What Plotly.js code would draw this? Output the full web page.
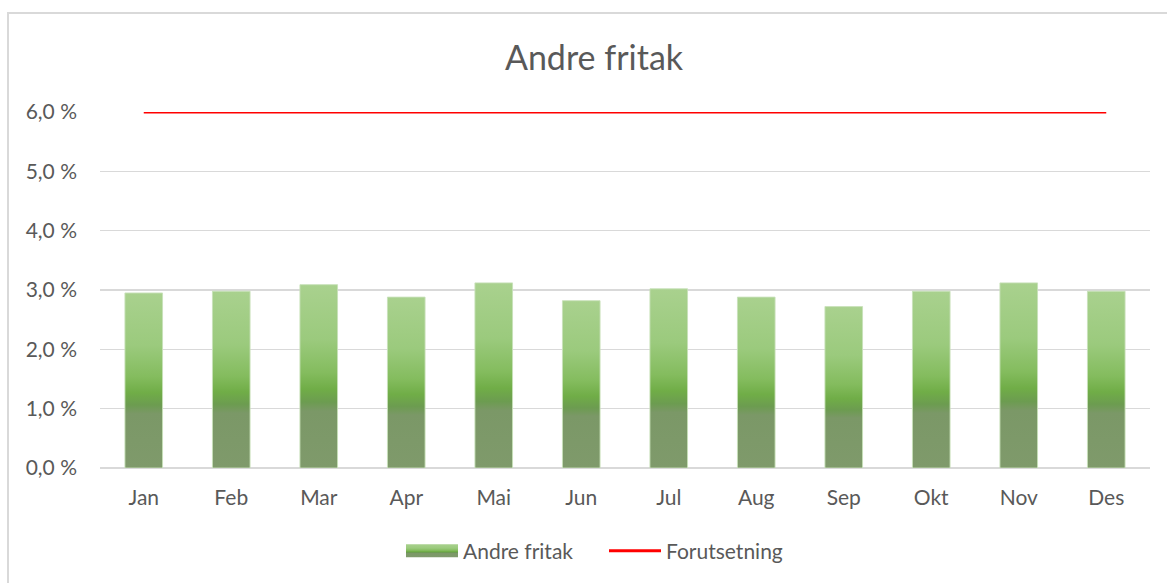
<!DOCTYPE html>
<html>
<head>
<meta charset="utf-8">
<script src="https://cdn.plot.ly/plotly-3.0.1.min.js"></script>
<style>
  html, body { margin:0; padding:0; background:#fff; }
  #chart { width:1167px; height:583px; }
  #frame { position:absolute; left:7px; top:12px; width:1180px; height:600px; border:2px solid #d9d9d9; box-sizing:border-box; pointer-events:none; }
</style>
</head>
<body>
<div id="chart"></div>
<div id="frame"></div>
<script>
const months = ["Jan","Feb","Mar","Apr","Mai","Jun","Jul","Aug","Sep","Okt","Nov","Des"];
const andreFritak = [2.95, 2.98, 3.09, 2.88, 3.12, 2.82, 3.02, 2.88, 2.72, 2.98, 3.12, 2.98];
const forutsetning = [6.0, 6.0, 6.0, 6.0, 6.0, 6.0, 6.0, 6.0, 6.0, 6.0, 6.0, 6.0];
const yTickVals = [0, 1, 2, 3, 4, 5, 6];
const yTickText = ["0,0 %","1,0 %","2,0 %","3,0 %","4,0 %","5,0 %","6,0 %"];

const FONT = "Lato, 'Open Sans', sans-serif";
const TXT = "#595959";

const traces = [
  {
    type: "bar", name: "Andre fritak", x: months, y: andreFritak,
    width: 0.43,
    marker: { color: "#84b465", line: { color: "rgba(200,225,185,0.9)", width: 1 } },
    hoverinfo: "x+y"
  },
  {
    type: "scatter", mode: "lines", name: "Forutsetning", x: months, y: forutsetning,
    line: { color: "#ff0000", width: 3 }
  }
];

const layout = {
  width: 1167, height: 583,
  margin: { l: 100, r: 17, t: 112, b: 115 },
  paper_bgcolor: "#ffffff", plot_bgcolor: "#ffffff",
  font: { family: FONT, color: TXT, size: 21 },
  title: { text: "Andre fritak", font: { family: FONT, size: 34, color: TXT }, x: 594 / 1167, xanchor: "center", y: 0.9, yanchor: "middle", yref: "container" },
  showlegend: true,
  legend: { orientation: "h", xref: "container", yref: "container", x: 401 / 1167, xanchor: "left", y: 1 - 551 / 583, yanchor: "middle",
            font: { size: 21, color: TXT, family: FONT }, itemwidth: 52, entrywidth: 136, entrywidthmode: "pixels", traceorder: "normal" },
  xaxis: {
    type: "category", showgrid: false, zeroline: false, showline: false,
    ticks: "", ticklabelstandoff: 15, tickfont: { size: 21, color: TXT },
    range: [-0.5, 11.5]
  },
  yaxis: {
    range: [0, 6], tickvals: yTickVals, ticktext: yTickText,
    showgrid: true, gridcolor: "#d9d9d9", gridwidth: 1.5,
    zeroline: true, zerolinecolor: "#d9d9d9", zerolinewidth: 1.5,
    showline: false, ticks: "", ticklabelstandoff: 22, tickfont: { size: 21, color: TXT }
  },
  bargap: 0.57
};

function applyGradient(gd) {
  const svgNS = "http://www.w3.org/2000/svg";
  const svg = gd.querySelector("svg.main-svg");
  if (!document.getElementById("andreGrad")) {
    let defs = svg.querySelector("defs");
    if (!defs) { defs = document.createElementNS(svgNS, "defs"); svg.insertBefore(defs, svg.firstChild); }
    const grad = document.createElementNS(svgNS, "linearGradient");
    grad.setAttribute("id", "andreGrad");
    grad.setAttribute("x1", "0"); grad.setAttribute("y1", "0");
    grad.setAttribute("x2", "0"); grad.setAttribute("y2", "1");
    const stops = [[0, "#a9d18e"], [0.3, "#9bca7d"], [0.48, "#84bc5e"], [0.57, "#70ad47"], [0.64, "#6c9c50"], [0.69, "#7b9867"], [1, "#7f9a6b"]];
    stops.forEach(function (s) {
      const st = document.createElementNS(svgNS, "stop");
      st.setAttribute("offset", s[0]);
      st.setAttribute("stop-color", s[1]);
      grad.appendChild(st);
    });
    defs.appendChild(grad);
  }
  gd.querySelectorAll(".barlayer .point path").forEach(function (p) { p.style.fill = "url(#andreGrad)"; });
  const legendTraces = gd.querySelectorAll(".legend .traces");
  legendTraces.forEach(function (t) {
    const txt = t.querySelector("text");
    if (txt && txt.textContent === "Andre fritak") {
      t.querySelectorAll(".legendpoints path").forEach(function (p) {
        p.setAttribute("d", "M26,6.5H-26V-6.5H26Z");
        p.style.fill = "url(#andreGrad)";
        p.style.stroke = "none";
      });
    }
  });
}

Plotly.newPlot("chart", traces, layout, { displayModeBar: false, staticPlot: true }).then(function (gd) {
  applyGradient(gd);
  setTimeout(function () { applyGradient(gd); }, 50);
});
</script>
</body>
</html>
